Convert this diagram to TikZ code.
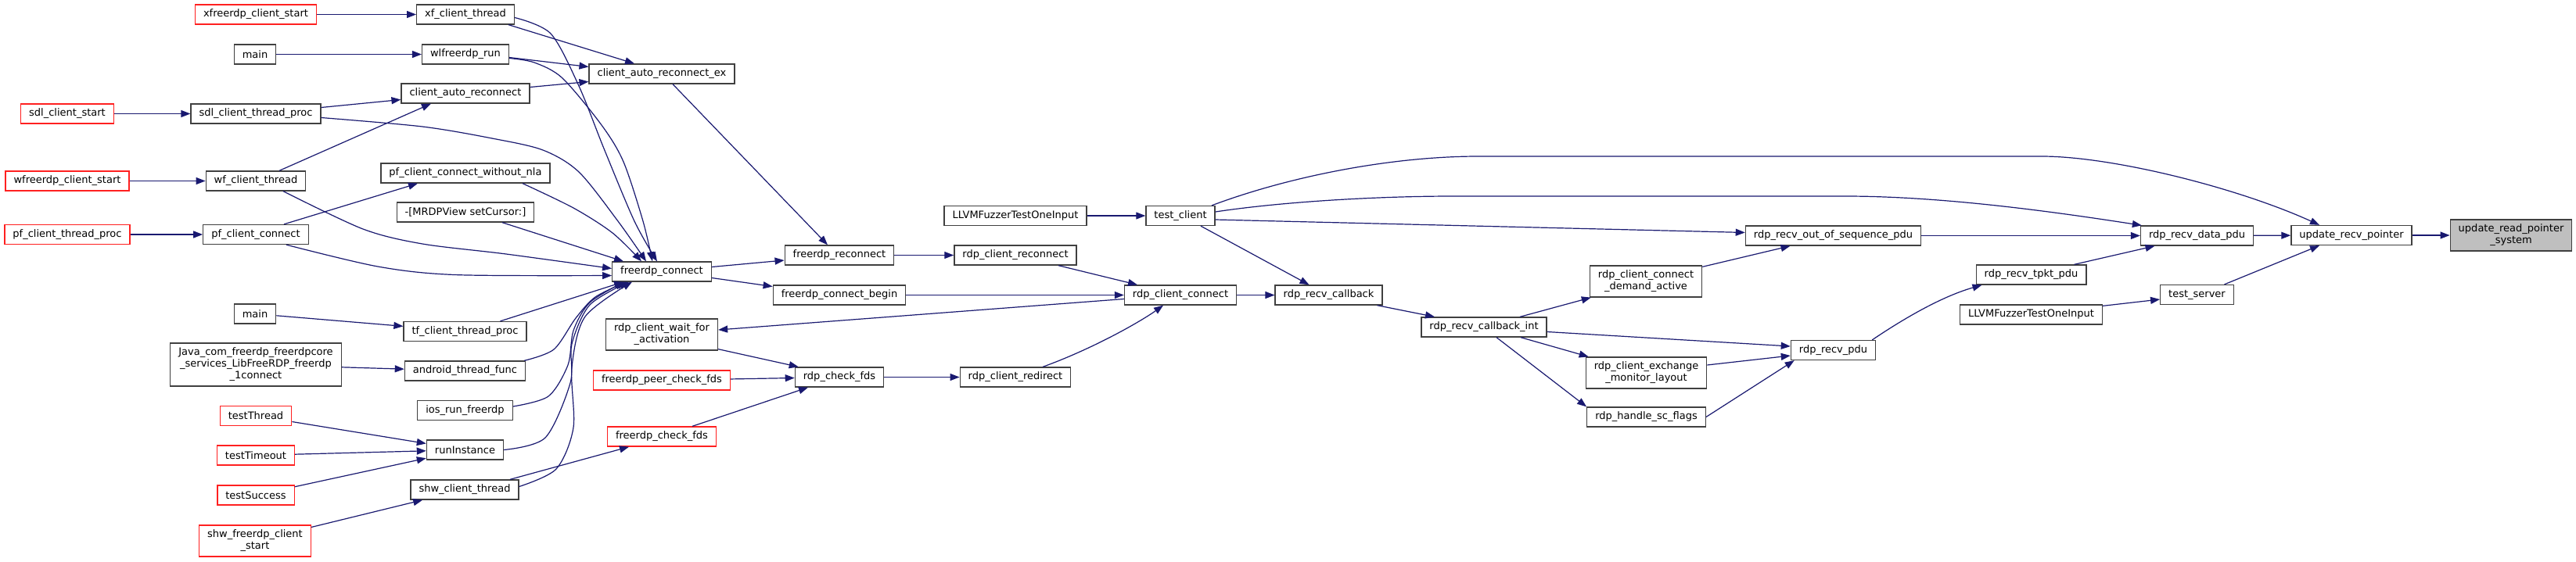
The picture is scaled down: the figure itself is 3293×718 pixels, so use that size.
\documentclass[tikz,border=0pt]{standalone}
\usepackage{fontspec}
\setmainfont{DejaVu Sans}
\usetikzlibrary{arrows.meta,calc}
\definecolor{edgec}{HTML}{191970}
\definecolor{bord}{HTML}{404040}
\definecolor{redb}{HTML}{FF2020}
\definecolor{focal}{HTML}{BFBFBF}
\begin{document}
\begin{tikzpicture}[x=1pt,y=-1pt,
 fn/.style={draw=bord, fill=white, line width=1.3pt, inner xsep=10.5pt, inner ysep=0pt, minimum height=25pt, align=center, font=\fontsize{13}{15}\selectfont, text=black},
 rn/.style={fn, draw=redb},
 fo/.style={fn, fill=focal},
 two/.style={minimum height=40pt},
 three/.style={minimum height=55pt},
 edge/.style={draw=edgec, line width=1.2pt, -{Triangle[length=12pt,width=9pt]}}]
\useasboundingbox (0,0) rectangle (3293,718);
\fill[white] (0,0) rectangle (3293,718);
% column 0 and 1
\node[rn] (xfs) at (327,18.5) {xfreerdp\_client\_start};
\node[fn] (m1) at (326,69.5) {main};
\node[rn] (sdls) at (86,145.5) {sdl\_client\_start};
\node[fn] (sdlp) at (327,145.5) {sdl\_client\_thread\_proc};
\node[rn] (wfs) at (86,231.5) {wfreerdp\_client\_start};
\node[fn] (wft) at (327,231.5) {wf\_client\_thread};
\node[rn] (pfp) at (86,300) {pf\_client\_thread\_proc};
\node[fn] (pfc) at (327,300) {pf\_client\_connect};
\node[fn] (m2) at (326,401.5) {main};
\node[fn,three] (java) at (327,466.5) {Java\_com\_freerdp\_freerdpcore\\\_services\_LibFreeRDP\_freerdp\\\_1connect};
\node[rn] (tth) at (327,532) {testThread};
\node[rn] (tto) at (327,582.5) {testTimeout};
\node[rn] (tsu) at (327,633.5) {testSuccess};
\node[rn,two] (shws) at (326,692) {shw\_freerdp\_client\\\_start};
% column 2
\node[fn] (xft) at (595,18.5) {xf\_client\_thread};
\node[fn] (wlr) at (595,69.5) {wlfreerdp\_run};
\node[fn] (car) at (595,119.5) {client\_auto\_reconnect};
\node[fn] (pfn) at (595,221.5) {pf\_client\_connect\_without\_nla};
\node[fn] (mrdp) at (595,271.5) {-[MRDPView setCursor:]};
\node[fn] (tfp) at (594.5,424) {tf\_client\_thread\_proc};
\node[fn] (andr) at (594.5,474.5) {android\_thread\_func};
\node[fn] (ios) at (594.5,525) {ios\_run\_freerdp};
\node[fn] (runi) at (594.5,575.5) {runInstance};
\node[fn] (shwt) at (594,626.5) {shw\_client\_thread};
% column 3
\node[fn] (care) at (846,94.5) {client\_auto\_reconnect\_ex};
\node[fn] (fc) at (846,347.5) {freerdp\_connect};
\node[fn,two] (wfa) at (846,428) {rdp\_client\_wait\_for\\\_activation};
\node[rn] (fpcf) at (846,486.5) {freerdp\_peer\_check\_fds};
\node[rn] (fcf) at (846,558.5) {freerdp\_check\_fds};
% column 4
\node[fn] (frc) at (1073,326.5) {freerdp\_reconnect};
\node[fn] (fcb) at (1073,377.5) {freerdp\_connect\_begin};
\node[fn] (rcf) at (1073,482.5) {rdp\_check\_fds};
% column 5
\node[fn] (llvma) at (1298,276) {LLVMFuzzerTestOneInput};
\node[fn] (rcr) at (1298,326.5) {rdp\_client\_reconnect};
\node[fn] (rred) at (1298,482.5) {rdp\_client\_redirect};
% column 6-8
\node[fn] (tc) at (1509,276) {test\_client};
\node[fn] (rcc) at (1509,377.5) {rdp\_client\_connect};
\node[fn] (rrc) at (1698.5,377.5) {rdp\_recv\_callback};
\node[fn] (rrci) at (1897,418.5) {rdp\_recv\_callback\_int};
% column 9
\node[fn,two] (rcda) at (2104,360) {rdp\_client\_connect\\\_demand\_active};
\node[fn,two] (rcem) at (2104.5,477) {rdp\_client\_exchange\\\_monitor\_layout};
\node[fn] (rhsf) at (2104.5,533.5) {rdp\_handle\_sc\_flags};
% column 10-14
\node[fn] (roos) at (2343.5,301.5) {rdp\_recv\_out\_of\_sequence\_pdu};
\node[fn] (rpdu) at (2343.5,448) {rdp\_recv\_pdu};
\node[fn] (tpkt) at (2596.5,351.5) {rdp\_recv\_tpkt\_pdu};
\node[fn] (llvmb) at (2596.5,402.5) {LLVMFuzzerTestOneInput};
\node[fn] (rdata) at (2808.5,301.5) {rdp\_recv\_data\_pdu};
\node[fn] (tsrv) at (2808.5,377) {test\_server};
\node[fn] (urp) at (3006,301) {update\_recv\_pointer};
\node[fo,two] (urps) at (3210,301) {update\_read\_pointer\\\_system};

% straight edges, left part
\draw[edge] (xfs) -- (xft);
\draw[edge] (m1) -- (wlr);
\draw[edge] (sdls) -- (sdlp);
\draw[edge] (wfs) -- (wft);
\draw[edge] (pfp) -- (pfc);
\draw[edge] (m2) -- (tfp);
\draw[edge] (java) -- (andr);
\draw[edge] (tth) -- (runi);
\draw[edge] (tto) -- (runi);
\draw[edge] (tsu) -- (runi);
\draw[edge] (shws) -- (shwt);
\draw[edge] ($(xft.south)+(55,0)$) -- ($(care.north)+(-35,0)$);
\draw[edge] ($(wlr.east)+(0,4)$) -- ($(care.west)+(0,-9)$);
\draw[edge] ($(car.east)+(0,-8)$) -- ($(care.west)+(0,10)$);
\draw[edge] ($(sdlp.east)+(0,-8)$) -- ($(car.west)+(0,8)$);
\draw[edge] ($(wft.north)+(30,0)$) -- ($(car.south)+(-44,0)$);
\draw[edge] ($(pfc.north)+(36,0)$) -- ($(pfn.south)+(-61,0)$);
\draw[edge] ($(mrdp.south)+(47,0)$) -- ($(fc.north)+(-49,0)$);
\draw[edge] ($(tfp.north)+(45,0)$) -- ($(fc.south)+(-49,0)$);
\draw[edge] ($(shwt.north)+(58,0)$) -- ($(fcf.south)+(-42,0)$);

% curved edges into freerdp_connect
\coordinate (a13) at ($(xft.east)+(0,4)$);
\coordinate (b13) at ($(fc.north)+(-6,0)$);
\draw[edge] plot[smooth,tension=0.5] coordinates {(a13) (704,43) (740,110) (772,190) (811,283) (b13)};
\coordinate (a15) at ($(wlr.east)+(0,5)$);
\coordinate (b15) at ($(fc.north)+(-12,0)$);
\draw[edge] plot[smooth,tension=0.5] coordinates {(a15) (683,80) (719,100) (769,160) (797,207) (822,283) (b15)};
\coordinate (a18) at ($(sdlp.east)+(0,5)$);
\coordinate (b18) at ($(fc.north)+(-20,0)$);
\draw[edge] plot[smooth,tension=0.5] coordinates {(a18) (540,162) (629,177) (694,192) (740,220) (790,283) (b18)};
\coordinate (a23) at ($(pfn.south)+(73,0)$);
\coordinate (b23) at ($(fc.north)+(-26,0)$);
\draw[edge] plot[smooth,tension=0.5] coordinates {(a23) (733,266) (783,298) (b23)};
\coordinate (a20) at ($(wft.south)+(35,0)$);
\coordinate (b20) at ($(fc.west)+(0,-4)$);
\draw[edge] plot[smooth,tension=0.5] coordinates {(a20) (464,293) (540,312) (647,325) (b20)};
\coordinate (a22) at ($(pfc.south)+(39,0)$);
\coordinate (b22) at ($(fc.west)+(0,5)$);
\draw[edge] plot[smooth,tension=0.5] coordinates {(a22) (483,341) (583,351.6) (b22)};
\coordinate (a26) at ($(andr.north east)+(-2,0)$);
\coordinate (b26) at ($(fc.south)+(-45,0)$);
\draw[edge] plot[smooth,tension=0.5] coordinates {(a26) (708,447) (736,407) (761,380) (b26)};
\coordinate (a27) at ($(ios.east)+(0,-5)$);
\coordinate (b27) at ($(fc.south)+(-48,0)$);
\draw[edge] plot[smooth,tension=0.5] coordinates {(a27) (701,507) (726,467) (733,423) (754,387) (b27)};
\coordinate (b28) at ($(fc.south)+(-42,0)$);
\draw[edge] plot[smooth,tension=0.5] coordinates {(runi.east) (697,560) (729,490) (731,440) (754,390) (b28)};
\coordinate (a29) at ($(shwt.east)+(0,-4)$);
\coordinate (b29) at ($(fc.south)+(-38,0)$);
\draw[edge] plot[smooth,tension=0.5] coordinates {(a29) (711,600) (733,547) (731,470) (748,405) (b29)};

% middle part
\draw[edge] ($(care.south)+(14,0)$) -- ($(frc.north)+(-15,0)$);
\draw[edge] ($(fc.east)+(0,-6)$) -- ($(frc.west)+(0,6.5)$);
\draw[edge] ($(fc.east)+(0,8)$) -- ($(fcb.west)+(0,-11)$);
\draw[edge] (frc) -- (rcr);
\draw[edge] (fcb) -- (rcc);
\draw[edge] ($(rcr.south)+(55,0)$) -- ($(rcc.north)+(-55,0)$);
\draw[edge] ($(rcc.west)+(0,5)$) -- ($(wfa.east)+(0,-6)$);
\draw[edge] ($(wfa.south east)+(0,-2)$) -- ($(rcf.north west)+(5,0)$);
\draw[edge] (fpcf) -- (rcf);
\draw[edge] ($(fcf.north)+(39,0)$) -- ($(rcf.south)+(-40,0)$);
\draw[edge] (rcf) -- (rred);
\draw[edge] ($(rred.north)+(35,0)$) .. controls (1400,445) and (1460,410) .. ($(rcc.south)+(-22,0)$);
\draw[edge] (rcc) -- (rrc);
\draw[edge] (llvma) -- (tc);
\draw[edge] ($(tc.south)+(26,0)$) -- ($(rrc.north)+(-25,0)$);
\draw[edge] ($(tc.east)+(0,5)$) -- ($(roos.west)+(0,-4)$);
\draw[edge] ($(tc.north)+(40,0)$) .. controls (1650,225) and (1780,200) .. (1890,200) -- (2610,200) .. controls (2700,200) and (2860,240) .. ($(urp.north)+(-41,0)$);
\draw[edge] ($(tc.east)+(0,-5)$) .. controls (1640,258) and (1760,251) .. (1858,251) -- (2359,251) .. controls (2480,251) and (2620,270) .. ($(rdata.north west)+(2,0)$);

% right part
\draw[edge] ($(rrc.south)+(62,0)$) -- ($(rrci.north)+(-63,0)$);
\draw[edge] ($(rrci.north)+(46,0)$) -- ($(rcda.south west)+(2,0)$);
\draw[edge] ($(rrci.east)+(0,6)$) -- ($(rpdu.west)+(0,-5)$);
\draw[edge] ($(rrci.south)+(47,0)$) -- ($(rcem.north west)+(4,0)$);
\draw[edge] ($(rrci.south)+(16,0)$) -- (rhsf.north west);
\draw[edge] ($(rcda.north east)+(0,2)$) -- ($(roos.south)+(-55,0)$);
\draw[edge] ($(rcem.east)+(0,-10)$) -- ($(rpdu.west)+(0,7)$);
\draw[edge] (rhsf.east) -- ($(rpdu.south west)+(5,0)$);
\draw[edge] ($(rpdu.north east)+(-5,0)$) .. controls (2430,410) and (2480,380) .. ($(tpkt.south west)+(8,0)$);
\draw[edge] (roos) -- (rdata);
\draw[edge] ($(tpkt.north)+(55,0)$) -- ($(rdata.south)+(-54,0)$);
\draw[edge] (rdata) -- (urp);
\draw[edge] ($(llvmb.north east)+(0,2)$) -- ($(tsrv.west)+(0,6)$);
\draw[edge] ($(tsrv.north)+(35,0)$) -- ($(urp.south)+(-41,0)$);
\draw[edge] (urp) -- (urps);
\end{tikzpicture}
\end{document}
